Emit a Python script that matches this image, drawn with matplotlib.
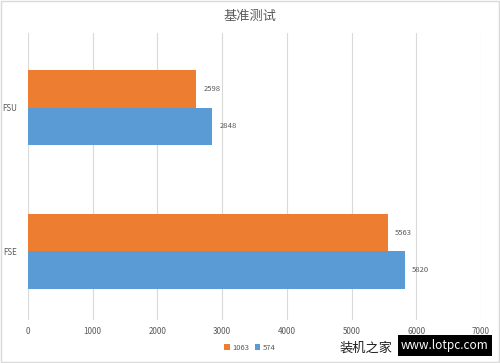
import matplotlib.pyplot as plt
from matplotlib.patches import Rectangle

plt.rcParams['font.family'] = ['Noto Sans CJK SC', 'DejaVu Sans']

categories = ['FSU', 'FSE']
series_names = ['1063', '574']
vals_1063 = [2598, 5563]
vals_574 = [2848, 5820]
xticks = [0, 1000, 2000, 3000, 4000, 5000, 6000, 7000]

orange = '#ED7D31'
blue = '#5B9BD5'
gray = '#595959'

fig = plt.figure(figsize=(5, 3.63), dpi=100)
ax = fig.add_axes([0.056, 0.118, 0.906, 0.791])

h = 0.26
y = list(range(len(categories)))
b1 = ax.barh([i - h / 2 for i in y], vals_1063, height=h, color=orange, label=series_names[0])
b2 = ax.barh([i + h / 2 for i in y], vals_574, height=h, color=blue, label=series_names[1])
for bars in (b1, b2):
    for r in bars:
        w = r.get_width()
        ax.text(w + 110, r.get_y() + r.get_height() / 2, str(int(w)),
                va='center', ha='left', fontsize=5.5, color=gray)

ax.set_xlim(0, 7000)
ax.set_ylim(1.48, -0.52)
ax.set_xticks(xticks)
ax.set_yticks(y)
ax.set_yticklabels(categories)
ax.tick_params(length=0, labelsize=5.8, labelcolor=gray)
ax.tick_params(axis='x', pad=5)
ax.tick_params(axis='y', pad=8)
ax.grid(axis='x', color='#d9d9d9', linewidth=0.8)
ax.set_axisbelow(True)
for s in ax.spines.values():
    s.set_visible(False)

fig.text(0.5, 0.955, '基准测试', ha='center', va='center', fontsize=9.5, color=gray)

fig.legend(loc='center', bbox_to_anchor=(0.5, 0.042), ncol=2, frameon=False,
           fontsize=5.5, handlelength=0.7, handleheight=0.7, columnspacing=0.8,
           handletextpad=0.3, labelcolor=gray)

# watermark
fig.text(0.733, 0.041, '装机之家', ha='center', va='center', fontsize=9.5, color='#222222',
         family=['Noto Sans CJK SC'])
fig.patches.append(Rectangle((0.796, 0.019), 0.188, 0.058, transform=fig.transFigure,
                             facecolor='black', edgecolor='none'))
fig.text(0.89, 0.047, 'www.lotpc.com', ha='center', va='center', fontsize=8.5, color='white')

fig.patches.append(Rectangle((0.002, 0.002), 0.996, 0.996, transform=fig.transFigure,
                             facecolor='none', edgecolor='#d9d9d9', linewidth=1))

fig.savefig('out.png', dpi=100)
